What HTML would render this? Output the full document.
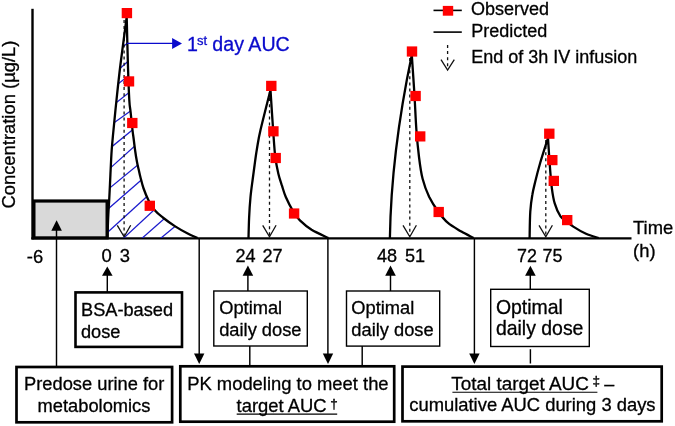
<!DOCTYPE html>
<html><head><meta charset="utf-8"><title>PK figure</title>
<style>
html,body{margin:0;padding:0;background:#fff;}
body{width:675px;height:426px;overflow:hidden;}
svg{display:block;}
text{font-family:"Liberation Sans",Arial,sans-serif;font-size:18.4px;fill:#000;stroke:#000;stroke-width:0.3px;}
.b{fill:#0a0acc;stroke:#0a0acc;}
</style></head><body>
<svg width="675" height="426" viewBox="0 0 675 426">
<rect width="675" height="426" fill="#fff"/>
<!-- gray predose box -->
<rect x="33.9" y="201" width="73.2" height="36.9" fill="#d9d9d9" stroke="#000" stroke-width="3.2"/>
<!-- axes -->
<line x1="32.5" y1="8.8" x2="32.5" y2="239.4" stroke="#000" stroke-width="2.4"/>
<line x1="31.3" y1="238.3" x2="631.5" y2="238.3" stroke="#000" stroke-width="2.3"/>
<text transform="translate(15.4,208.6) rotate(-90)">Concentration (µg/L)</text>
<text x="633" y="233.9">Time</text>
<text x="633.1" y="256.8">(h)</text>
<clipPath id="cp"><path d="M107.5,238.0 C107.6,234.2 108.0,221.3 108.3,215.0 C108.6,208.7 108.8,206.7 109.2,200.0 C109.6,193.3 110.0,183.3 110.4,175.0 C110.8,166.7 111.2,157.0 111.7,150.0 C112.2,143.0 112.4,141.3 113.2,133.0 C114.0,124.7 115.3,111.3 116.5,100.0 C117.7,88.7 118.7,78.8 120.4,65.0 C122.1,51.2 125.7,25.0 126.7,17.0 C126.9,24.2 127.4,46.2 127.8,60.0 C128.2,73.8 128.8,91.3 129.3,100.0 C129.8,108.7 130.1,107.0 130.6,112.0 C131.1,117.0 132.0,125.3 132.5,130.0 C133.0,134.7 133.4,136.5 133.8,140.0 C134.2,143.5 134.7,147.3 135.2,151.0 C135.7,154.7 136.4,158.8 137.0,162.0 C137.6,165.2 138.2,167.5 138.8,170.0 C139.4,172.5 139.6,174.0 140.4,177.0 C141.2,180.0 142.0,184.0 143.4,188.0 C144.8,192.0 146.9,197.2 148.8,201.0 C150.7,204.8 152.7,207.8 155.0,210.5 C157.3,213.2 159.4,214.8 162.8,217.5 C166.2,220.2 171.0,223.7 175.2,226.4 C179.3,229.1 184.0,231.6 187.7,233.5 C191.4,235.4 195.9,237.2 197.5,238.0 Z"/></clipPath>
<g clip-path="url(#cp)" stroke="#1a1acc" stroke-width="1.25" fill="none"><line x1="98.0" y1="65.5" x2="151.1" y2="25.3"/><line x1="98.5" y1="87.3" x2="151.1" y2="41.0"/><line x1="93.0" y1="103.4" x2="148.5" y2="60.3"/><line x1="91.5" y1="122.4" x2="153.1" y2="73.4"/><line x1="88.8" y1="140.7" x2="155.1" y2="93.4"/><line x1="87.2" y1="166.7" x2="155.7" y2="111.1"/><line x1="88.7" y1="187.5" x2="155.1" y2="127.7"/><line x1="85.7" y1="207.8" x2="154.8" y2="150.9"/><line x1="86.3" y1="228.0" x2="163.1" y2="161.0"/><line x1="86.2" y1="251.7" x2="168.9" y2="176.5"/><line x1="102.4" y1="257.8" x2="174.0" y2="191.5"/><line x1="119.8" y1="257.8" x2="185.3" y2="200.2"/><line x1="137.9" y1="257.1" x2="197.4" y2="207.9"/></g>
<line x1="124.1" y1="20" x2="124.1" y2="236" stroke="#111" stroke-width="1.3" stroke-dasharray="3,3.1"/>
<path d="M117.3,225.4 L124.1,236.8 L130.7,225.3" stroke="#111" stroke-width="1.3" fill="none"/>
<line x1="269.5" y1="92" x2="269.5" y2="236" stroke="#111" stroke-width="1.3" stroke-dasharray="3,3.1"/>
<path d="M262.7,225.4 L269.5,236.8 L276.1,225.3" stroke="#111" stroke-width="1.3" fill="none"/>
<line x1="409.8" y1="58" x2="409.8" y2="236" stroke="#111" stroke-width="1.3" stroke-dasharray="3,3.1"/>
<path d="M403.0,225.4 L409.8,236.8 L416.40000000000003,225.3" stroke="#111" stroke-width="1.3" fill="none"/>
<line x1="545.8" y1="140" x2="545.8" y2="236" stroke="#111" stroke-width="1.3" stroke-dasharray="3,3.1"/>
<path d="M539.0,225.4 L545.8,236.8 L552.4,225.3" stroke="#111" stroke-width="1.3" fill="none"/>
<path d="M107.5,238.0 C107.6,234.2 108.0,221.3 108.3,215.0 C108.6,208.7 108.8,206.7 109.2,200.0 C109.6,193.3 110.0,183.3 110.4,175.0 C110.8,166.7 111.2,157.0 111.7,150.0 C112.2,143.0 112.4,141.3 113.2,133.0 C114.0,124.7 115.3,111.3 116.5,100.0 C117.7,88.7 118.7,78.8 120.4,65.0 C122.1,51.2 125.7,25.0 126.7,17.0 C126.9,24.2 127.4,46.2 127.8,60.0 C128.2,73.8 128.8,91.3 129.3,100.0 C129.8,108.7 130.1,107.0 130.6,112.0 C131.1,117.0 132.0,125.3 132.5,130.0 C133.0,134.7 133.4,136.5 133.8,140.0 C134.2,143.5 134.7,147.3 135.2,151.0 C135.7,154.7 136.4,158.8 137.0,162.0 C137.6,165.2 138.2,167.5 138.8,170.0 C139.4,172.5 139.6,174.0 140.4,177.0 C141.2,180.0 142.0,184.0 143.4,188.0 C144.8,192.0 146.9,197.2 148.8,201.0 C150.7,204.8 152.7,207.8 155.0,210.5 C157.3,213.2 159.4,214.8 162.8,217.5 C166.2,220.2 171.0,223.7 175.2,226.4 C179.3,229.1 184.0,231.6 187.7,233.5 C191.4,235.4 195.9,237.2 197.5,238.0" stroke="#000" stroke-width="2.3" fill="none" stroke-linejoin="bevel"/>
<path d="M248.5,238.0 C248.6,234.7 248.8,224.8 249.1,218.0 C249.4,211.2 249.9,203.3 250.5,197.0 C251.1,190.7 251.9,185.3 252.6,180.0 C253.3,174.7 253.9,170.2 254.6,165.0 C255.3,159.8 256.0,154.3 257.0,148.5 C258.0,142.7 258.2,139.8 260.5,130.0 C262.8,120.2 268.8,96.7 270.5,90.0 C270.9,96.8 272.4,119.8 273.2,131.0 C274.0,142.2 274.4,149.9 275.3,157.0 C276.2,164.1 277.2,168.8 278.3,173.5 C279.4,178.2 280.6,181.3 281.8,185.2 C283.1,189.1 283.8,192.4 285.8,197.0 C287.8,201.6 291.5,208.6 293.8,212.5 C296.1,216.4 296.9,217.5 299.9,220.4 C302.9,223.3 306.9,226.9 311.6,229.8 C316.4,232.7 325.6,236.6 328.4,238.0" stroke="#000" stroke-width="2.3" fill="none" stroke-linejoin="bevel"/>
<path d="M389.9,238 Q391.2,153 411.8,55 C412.2,61.2 413.5,79.8 414.3,92.3 C415.1,104.8 415.6,119.2 416.4,130.0 C417.2,140.8 418.0,148.9 419.0,157.0 C420.0,165.1 420.9,172.2 422.6,178.8 C424.3,185.4 426.5,191.3 429.1,196.8 C431.8,202.3 435.4,207.7 438.5,212.0 C441.6,216.3 443.9,219.4 447.7,222.7 C451.5,226.0 457.1,229.0 461.4,231.6 C465.7,234.2 471.6,236.9 473.6,238.0" stroke="#000" stroke-width="2.3" fill="none" stroke-linejoin="bevel"/>
<path d="M529.6,238.0 C529.7,233.6 529.8,218.7 530.3,211.5 C530.8,204.3 531.4,200.1 532.3,195.0 C533.1,189.9 534.1,186.4 535.4,181.0 C536.7,175.6 538.2,169.7 540.3,162.5 C542.4,155.3 546.7,142.1 548.0,138.0 C548.3,142.1 549.0,154.2 549.6,162.5 C550.2,170.8 550.9,180.9 551.8,187.8 C552.7,194.7 553.3,198.9 554.8,203.7 C556.2,208.4 558.4,213.3 560.5,216.3 C562.6,219.3 565.1,220.1 567.2,221.8 C569.3,223.5 570.2,224.6 573.3,226.6 C576.4,228.6 581.8,231.9 586.0,233.8 C590.2,235.7 596.6,237.3 598.7,238.0" stroke="#000" stroke-width="2.3" fill="none" stroke-linejoin="bevel"/>
<rect x="121.7" y="8.0" width="10.4" height="10.2" fill="#ff0000"/>
<rect x="123.8" y="76.3" width="10.4" height="10.2" fill="#ff0000"/>
<rect x="127.1" y="117.9" width="10.4" height="10.2" fill="#ff0000"/>
<rect x="144.6" y="200.7" width="10.4" height="10.2" fill="#ff0000"/>
<rect x="266.1" y="80.8" width="10.4" height="10.2" fill="#ff0000"/>
<rect x="268.2" y="126.2" width="10.4" height="10.2" fill="#ff0000"/>
<rect x="270.5" y="152.9" width="10.4" height="10.2" fill="#ff0000"/>
<rect x="288.9" y="208.4" width="10.4" height="10.2" fill="#ff0000"/>
<rect x="406.8" y="46.4" width="10.4" height="10.2" fill="#ff0000"/>
<rect x="410.4" y="90.9" width="10.4" height="10.2" fill="#ff0000"/>
<rect x="415.0" y="131.3" width="10.4" height="10.2" fill="#ff0000"/>
<rect x="433.5" y="206.9" width="10.4" height="10.2" fill="#ff0000"/>
<rect x="544.1" y="128.6" width="10.4" height="10.2" fill="#ff0000"/>
<rect x="547.1" y="155.0" width="10.4" height="10.2" fill="#ff0000"/>
<rect x="548.6" y="175.8" width="10.4" height="10.2" fill="#ff0000"/>
<rect x="562.0" y="215.0" width="10.4" height="10.2" fill="#ff0000"/>
<!-- blue annotation -->
<line x1="126.8" y1="43.4" x2="173" y2="43.4" stroke="#0a0acc" stroke-width="1.4"/>
<path d="M172.1,37.9 L182,43.4 L172.1,48.9 Z" fill="#0a0acc"/>
<text class="b" x="187.1" y="50.7" style="font-size:19.6px">1<tspan dy="-5.8" font-size="13px" dx="-0.9">st</tspan><tspan dy="5.8" dx="-0.3"> day AUC</tspan></text>
<!-- legend -->
<line x1="433.5" y1="10.4" x2="461.8" y2="10.4" stroke="#000" stroke-width="1.6"/>
<rect x="442.8" y="5.9" width="10.4" height="9.8" fill="#ff0000"/>
<text x="471" y="14.8" style="font-size:18px">Observed</text>
<line x1="433.5" y1="32.1" x2="461.8" y2="32.1" stroke="#000" stroke-width="1.6"/>
<text x="471.2" y="37.1" style="font-size:18px">Predicted</text>
<line x1="447.6" y1="45" x2="447.6" y2="69" stroke="#111" stroke-width="1.3" stroke-dasharray="3,3.1"/>
<path d="M441,59.6 L447.6,70 L454.3,59.6" stroke="#111" stroke-width="1.3" fill="none"/>
<text x="471.2" y="62.9" style="font-size:18px">End of 3h IV infusion</text>
<!-- x labels -->
<text x="26.8" y="263.4">-6</text>
<text x="101.6" y="262.2">0</text>
<text x="119.8" y="261.8">3</text>
<text x="235.5" y="261.5" style="font-size:18.1px">24</text>
<text x="262.5" y="261.5" style="font-size:18.1px">27</text>
<text x="377" y="262.3" style="font-size:18.1px">48</text>
<text x="405" y="262.3" style="font-size:18.1px">51</text>
<text x="517.1" y="262.3" style="font-size:17.9px">72</text>
<text x="542.6" y="262.3" style="font-size:17.9px">75</text>
<!-- connectors -->
<g stroke="#000" stroke-width="1.45" fill="none">
<line x1="56.5" y1="230" x2="56.5" y2="366"/>
<line x1="107.3" y1="274" x2="107.3" y2="293"/>
<line x1="199.2" y1="238" x2="199.2" y2="356"/>
<line x1="247.9" y1="274" x2="247.9" y2="291"/>
<line x1="249.8" y1="346" x2="249.8" y2="366"/>
<line x1="327.9" y1="238" x2="327.9" y2="356"/>
<line x1="390.5" y1="274" x2="390.5" y2="291"/>
<line x1="362.2" y1="346" x2="362.2" y2="366"/>
<line x1="474.4" y1="238" x2="474.4" y2="356"/>
<line x1="530.3" y1="274" x2="530.3" y2="290"/>
<line x1="530.4" y1="349.2" x2="530.4" y2="363.5"/>
</g>
<g fill="#000">
<path d="M56.6,220.2 L51.3,230.8 L61.9,230.8 Z"/>
<path d="M107.3,266.5 L102,275.8 L112.6,275.8 Z"/>
<path d="M247.9,265.5 L242.6,275.8 L253.2,275.8 Z"/>
<path d="M390.5,265.5 L385.2,275.8 L395.8,275.8 Z"/>
<path d="M530.4,265.8 L525.1,275.8 L535.7,275.8 Z"/>
<path d="M199.2,363.9 L194,353.6 L204.4,353.6 Z"/>
<path d="M328,363.9 L322.8,353.6 L333.2,353.6 Z"/>
<path d="M474.4,363.9 L469.2,353.6 L479.6,353.6 Z"/>
</g>
<!-- boxes -->
<rect x="75.5" y="292.4" width="106.5" height="54.5" fill="#fff" stroke="#000" stroke-width="2.6"/>
<text x="81" y="315.6" style="font-size:18.2px">BSA-based</text>
<text x="81" y="337.9" style="font-size:18.2px">dose</text>
<rect x="213.8" y="291" width="93.5" height="55" fill="#fff" stroke="#000" stroke-width="1.4"/>
<text x="219.2" y="314.3" style="font-size:18.3px">Optimal</text>
<text x="219.2" y="335.6" style="font-size:18.3px">daily dose</text>
<rect x="346.5" y="291" width="93.2" height="55.1" fill="#fff" stroke="#000" stroke-width="1.4"/>
<text x="351.3" y="314.3" style="font-size:18.3px">Optimal</text>
<text x="351.3" y="335.6" style="font-size:18.3px">daily dose</text>
<rect x="490.7" y="289.3" width="98.6" height="57.2" fill="#fff" stroke="#000" stroke-width="1.4"/>
<text x="495.9" y="313.6" style="font-size:19.45px">Optimal</text>
<text x="495.9" y="335.4" style="font-size:19.45px">daily dose</text>
<rect x="16.5" y="367" width="155.6" height="55.3" fill="#fff" stroke="#000" stroke-width="2.7"/>
<text x="94.2" y="390.4" text-anchor="middle" style="font-size:18.3px">Predose urine for</text>
<text x="94" y="412.3" text-anchor="middle" style="font-size:18.3px">metabolomics</text>
<rect x="180.3" y="366.3" width="213.9" height="55.4" fill="#fff" stroke="#000" stroke-width="2.7"/>
<text x="287.9" y="390" text-anchor="middle">PK modeling to meet the</text>
<text x="236.6" y="412">target AUC<tspan dy="-3.6" font-size="13.5px" dx="3.6" stroke="#000" stroke-width="0.35">†</tspan></text>
<line x1="236.7" y1="414.1" x2="337.2" y2="414.1" stroke="#000" stroke-width="1.1"/>
<rect x="402.5" y="366.6" width="259.2" height="54.7" fill="#fff" stroke="#000" stroke-width="2.7"/>
<text x="451.3" y="390" style="font-size:18.9px">Total target AUC<tspan dy="-4.6" font-size="13.5px" dx="3.6" stroke="#000" stroke-width="0.35">‡</tspan><tspan dy="4.6" dx="-0.8" style="font-size:18px"> –</tspan></text>
<line x1="452.4" y1="392.2" x2="597.4" y2="392.2" stroke="#000" stroke-width="1.1"/>
<text x="532.4" y="411.1" text-anchor="middle">cumulative AUC during 3 days</text>
</svg>
</body></html>
